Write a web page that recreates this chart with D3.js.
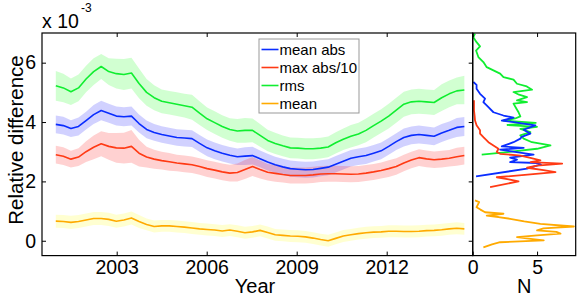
<!DOCTYPE html>
<html><head><meta charset="utf-8">
<script src="https://cdn.jsdelivr.net/npm/d3@7"></script>
<style>
html,body{margin:0;padding:0;background:#fff;}
svg{display:block;}
text{font-family:"Liberation Sans",Arial,Helvetica,sans-serif;fill:#000;}
</style></head>
<body>
<svg id="chart" width="588" height="301"></svg>
<script>
// ---------- data (values in units of 1e-3) ----------
const startYear = 2000.97;
const stepYear = 0.2522;
const meanAbs = [3.92,3.88,3.78,3.85,4.05,4.25,4.39,4.30,4.20,4.18,4.20,3.95,3.75,3.65,3.58,3.53,3.48,3.46,3.44,3.28,3.13,3.03,2.95,2.88,2.83,2.85,2.87,2.76,2.65,2.56,2.49,2.43,2.41,2.39,2.40,2.44,2.48,2.58,2.68,2.78,2.83,2.87,2.95,3.03,3.18,3.34,3.48,3.55,3.58,3.55,3.52,3.63,3.72,3.82,3.85];
const maxAbs10 = [2.90,2.85,2.75,2.82,3.00,3.15,3.27,3.18,3.13,3.12,3.18,2.95,2.82,2.75,2.70,2.66,2.62,2.59,2.56,2.50,2.43,2.38,2.32,2.28,2.30,2.40,2.50,2.40,2.31,2.27,2.23,2.20,2.20,2.20,2.22,2.25,2.26,2.26,2.25,2.24,2.25,2.28,2.32,2.37,2.43,2.50,2.62,2.72,2.80,2.76,2.73,2.75,2.78,2.83,2.87];
const rms = [5.22,5.15,5.02,5.15,5.45,5.70,5.87,5.70,5.63,5.60,5.65,5.30,5.00,4.82,4.70,4.65,4.60,4.55,4.50,4.30,4.11,3.98,3.85,3.75,3.70,3.72,3.72,3.55,3.38,3.28,3.20,3.13,3.12,3.10,3.10,3.12,3.16,3.30,3.42,3.52,3.60,3.72,3.88,4.03,4.20,4.40,4.60,4.68,4.70,4.68,4.66,4.82,4.95,5.05,5.08];
const meanVal = [0.66,0.65,0.62,0.65,0.70,0.75,0.75,0.72,0.66,0.70,0.77,0.65,0.55,0.48,0.50,0.50,0.48,0.46,0.43,0.40,0.38,0.36,0.33,0.36,0.32,0.27,0.30,0.35,0.28,0.20,0.18,0.16,0.15,0.13,0.09,0.04,0.00,0.08,0.16,0.20,0.24,0.27,0.29,0.30,0.32,0.32,0.31,0.31,0.32,0.34,0.35,0.37,0.40,0.42,0.40];
// half-widths of shaded bands
const meanAbsBand = [0.30,0.30,0.28,0.30,0.30,0.32,0.33,0.32,0.32,0.32,0.32,0.30,0.30,0.28,0.28,0.28,0.28,0.28,0.28,0.28,0.28,0.28,0.28,0.28,0.28,0.30,0.30,0.28,0.28,0.27,0.27,0.27,0.27,0.27,0.27,0.27,0.27,0.28,0.28,0.28,0.28,0.28,0.28,0.28,0.28,0.28,0.30,0.30,0.30,0.30,0.30,0.30,0.30,0.32,0.32];
const maxAbs10Band = [0.30,0.30,0.28,0.30,0.35,0.40,0.42,0.45,0.50,0.52,0.55,0.45,0.35,0.32,0.30,0.30,0.28,0.28,0.28,0.28,0.28,0.28,0.28,0.28,0.30,0.32,0.32,0.30,0.28,0.28,0.27,0.27,0.27,0.27,0.27,0.27,0.27,0.27,0.27,0.27,0.27,0.27,0.27,0.27,0.28,0.28,0.28,0.28,0.28,0.28,0.28,0.28,0.28,0.30,0.30];
const rmsBand = [0.50,0.48,0.45,0.45,0.45,0.45,0.42,0.45,0.50,0.52,0.52,0.50,0.45,0.42,0.40,0.40,0.40,0.40,0.42,0.40,0.38,0.38,0.38,0.38,0.40,0.42,0.40,0.38,0.36,0.36,0.35,0.35,0.35,0.35,0.35,0.35,0.35,0.36,0.36,0.38,0.38,0.40,0.40,0.40,0.42,0.42,0.42,0.42,0.42,0.42,0.42,0.45,0.45,0.45,0.48];
const meanBand = [0.22,0.22,0.22,0.22,0.22,0.22,0.22,0.22,0.22,0.22,0.22,0.22,0.20,0.20,0.20,0.20,0.20,0.20,0.20,0.20,0.20,0.20,0.20,0.20,0.20,0.20,0.20,0.20,0.20,0.20,0.20,0.20,0.20,0.20,0.20,0.20,0.20,0.20,0.20,0.20,0.20,0.20,0.20,0.20,0.20,0.20,0.20,0.20,0.20,0.20,0.20,0.20,0.20,0.20,0.20];

// side-panel distributions: value (1e-3) and count N
const rmsDistV = [6.98,6.86,6.69,6.55,6.41,6.19,6.02,5.85,5.74,5.63,5.51,5.43,5.29,5.20,5.09,5.01,4.92,4.84,4.73,4.67,4.62,4.45,4.33,4.19,4.12,4.05,3.97,3.90,3.84,3.77,3.66,3.55,3.44,3.32,3.21,3.10,3.01,2.90];
const rmsDistN = [0.18,0.05,0.30,0.57,0.26,0.44,0.83,1.09,1.61,2.13,2.39,3.17,3.44,4.20,4.61,3.17,3.60,4.22,3.44,4.22,3.17,3.40,3.56,3.70,3.30,2.39,4.90,2.70,5.00,3.70,4.48,3.70,3.96,4.60,6.04,5.00,3.17,0.70];
const meanAbsDistV = [5.35,5.25,5.12,4.95,4.79,4.67,4.50,4.33,4.22,4.15,4.05,4.00,3.89,3.74,3.61,3.50,3.44,3.32,3.18,3.13,3.07,2.90,2.80,2.73,2.65,2.62,2.57,2.43,2.17];
const meanAbsDistN = [0.05,0.30,0.30,0.57,0.96,0.83,1.22,1.61,2.39,3.17,2.26,3.17,4.87,3.96,4.48,3.80,3.70,3.17,2.26,3.96,2.13,4.73,2.91,3.44,2.91,5.00,5.30,4.22,0.26];
const maxAbs10DistV = [4.73,4.55,4.39,4.20,4.05,3.89,3.72,3.61,3.49,3.32,3.21,3.10,2.99,2.93,2.87,2.80,2.71,2.65,2.60,2.53,2.46,2.38,2.31,2.14,2.07,2.00,1.81];
const maxAbs10DistN = [0.10,0.10,0.10,0.15,0.18,0.30,0.57,0.57,0.83,1.22,1.61,2.00,1.87,2.13,3.70,4.40,5.26,4.50,6.95,5.00,4.22,5.50,6.43,1.87,2.80,3.56,1.35];
const meanDistV = [1.36,1.30,1.25,1.13,1.05,0.96,0.91,0.85,0.80,0.74,0.65,0.57,0.48,0.42,0.35,0.30,0.24,0.18,0.12,0.06,0.01,-0.05,-0.12,-0.22];
const meanDistN = [0.18,0.50,0.44,0.30,0.60,0.96,2.39,1.09,2.00,2.91,4.00,5.26,7.86,5.50,5.00,6.50,6.82,5.00,3.44,4.50,5.52,2.13,1.50,0.83];

const seriesNames = ["mean abs","max abs/10","rms","mean"];
const xTicks = [2003,2006,2009,2012];
const yTicks = [0,2,4,6];
const nTicks = [0,5];

// ---------- layout ----------
const svg = d3.select("#chart");
const L = 42, R = 472.7, T = 33, B = 255.6, R2 = 575.7;
const x = d3.scaleLinear().domain([2000.51, 2014.867]).range([L, R]);
const y = d3.scaleLinear().domain([-0.5, 7]).range([B, T]);
const xs = d3.scaleLinear().domain([0, 8]).range([R, R2]);
const years = meanAbs.map((d,i) => startYear + i*stepYear);

const colors = ["#0a2dff","#ff3a14","#10ee30","#ffaa00"];
const bandColors = ["#0000ff","#ff0000","#00ff00","#ffff00"];
const vals = [meanAbs, maxAbs10, rms, meanVal];
const bands = [meanAbsBand, maxAbs10Band, rmsBand, meanBand];

svg.append("defs").append("clipPath").attr("id","cm").append("rect")
  .attr("x",L).attr("y",T).attr("width",R-L).attr("height",B-T);
svg.append("defs").append("clipPath").attr("id","cs").append("rect")
  .attr("x",R).attr("y",T).attr("width",R2-R).attr("height",B-T);

const gm = svg.append("g").attr("clip-path","url(#cm)");
const area = d3.area().x((d,i)=>x(years[i])).y0(d=>y(d[0]-d[1])).y1(d=>y(d[0]+d[1]));
const line = d3.line().x((d,i)=>x(years[i])).y(d=>y(d));

for (let k=0;k<4;k++){
  const dat = vals[k].map((v,i)=>[v,bands[k][i]]);
  gm.append("path").attr("d",area(dat)).attr("fill",bandColors[k]).attr("fill-opacity",0.18).attr("stroke","none");
}
for (let k=0;k<4;k++){
  gm.append("path").attr("d",line(vals[k])).attr("fill","none").attr("stroke",colors[k]).attr("stroke-width",1.6).attr("stroke-linejoin","round");
}

// side panel
const gs = svg.append("g").attr("clip-path","url(#cs)");
const distV = [meanAbsDistV, maxAbs10DistV, rmsDistV, meanDistV];
const distN = [meanAbsDistN, maxAbs10DistN, rmsDistN, meanDistN];
const order = [2,0,1,3];
for (const k of order){
  const pl = d3.line().x((d,i)=>xs(distN[k][i])).y(d=>y(d));
  gs.append("path").attr("d",pl(distV[k])).attr("fill","none").attr("stroke",colors[k]).attr("stroke-width",1.8).attr("stroke-linejoin","round");
}

// axes
const fs = 19.5;
function style(g){ g.select(".domain").remove(); g.selectAll("line").attr("stroke","#000"); g.selectAll("text").attr("font-size",fs).attr("font-family",'"Liberation Sans",Arial,sans-serif').attr("fill","#000"); }
svg.append("g").attr("transform",`translate(0,${B})`).call(d3.axisBottom(x).tickValues(xTicks).tickFormat(d3.format("d")).tickSize(-4).tickPadding(5)).call(style);
svg.append("g").attr("transform",`translate(0,${T})`).call(d3.axisTop(x).tickValues(xTicks).tickFormat("").tickSize(-4)).call(style);
svg.append("g").attr("transform",`translate(${L},0)`).call(d3.axisLeft(y).tickValues(yTicks).tickFormat(d3.format("d")).tickSize(-4).tickPadding(6)).call(style);
svg.append("g").attr("transform",`translate(${R},0)`).call(d3.axisRight(y).tickValues(yTicks).tickFormat("").tickSize(-4)).call(style);
svg.append("g").attr("transform",`translate(0,${B})`).call(d3.axisBottom(xs).tickValues(nTicks).tickFormat(d3.format("d")).tickSize(-4).tickPadding(5)).call(style);
svg.append("g").attr("transform",`translate(0,${T})`).call(d3.axisTop(xs).tickValues(nTicks).tickFormat("").tickSize(-4)).call(style);

// frames
svg.append("rect").attr("x",L).attr("y",T).attr("width",R-L).attr("height",B-T).attr("fill","none").attr("stroke","#000").attr("stroke-width",1.2);
svg.append("rect").attr("x",R).attr("y",T).attr("width",R2-R).attr("height",B-T).attr("fill","none").attr("stroke","#000").attr("stroke-width",1.2);

// labels
svg.append("text").attr("x",255).attr("y",293).attr("text-anchor","middle").attr("font-size",20).text("Year");
svg.append("text").attr("x",(R+R2)/2).attr("y",293).attr("text-anchor","middle").attr("font-size",20).text("N");
svg.append("text").attr("transform","translate(23,140) rotate(-90)").attr("text-anchor","middle").attr("font-size",20.5).text("Relative difference");
svg.append("text").attr("x",42).attr("y",28).attr("font-size",fs).text("x 10");
svg.append("text").attr("x",81).attr("y",12).attr("font-size",12).text("-3");

// legend
const lg = svg.append("g");
lg.append("rect").attr("x",259).attr("y",39).attr("width",100).attr("height",74).attr("fill","#fff").attr("stroke","#999").attr("stroke-width",1);
seriesNames.forEach((nm,i)=>{
  const cy = 49.5 + i*18;
  lg.append("line").attr("x1",261.5).attr("x2",278.5).attr("y1",cy).attr("y2",cy).attr("stroke",colors[i]).attr("stroke-width",1.6);
  lg.append("text").attr("x",279.5).attr("y",cy+5.3).attr("font-size",15).text(nm);
});
</script>
</body></html>
